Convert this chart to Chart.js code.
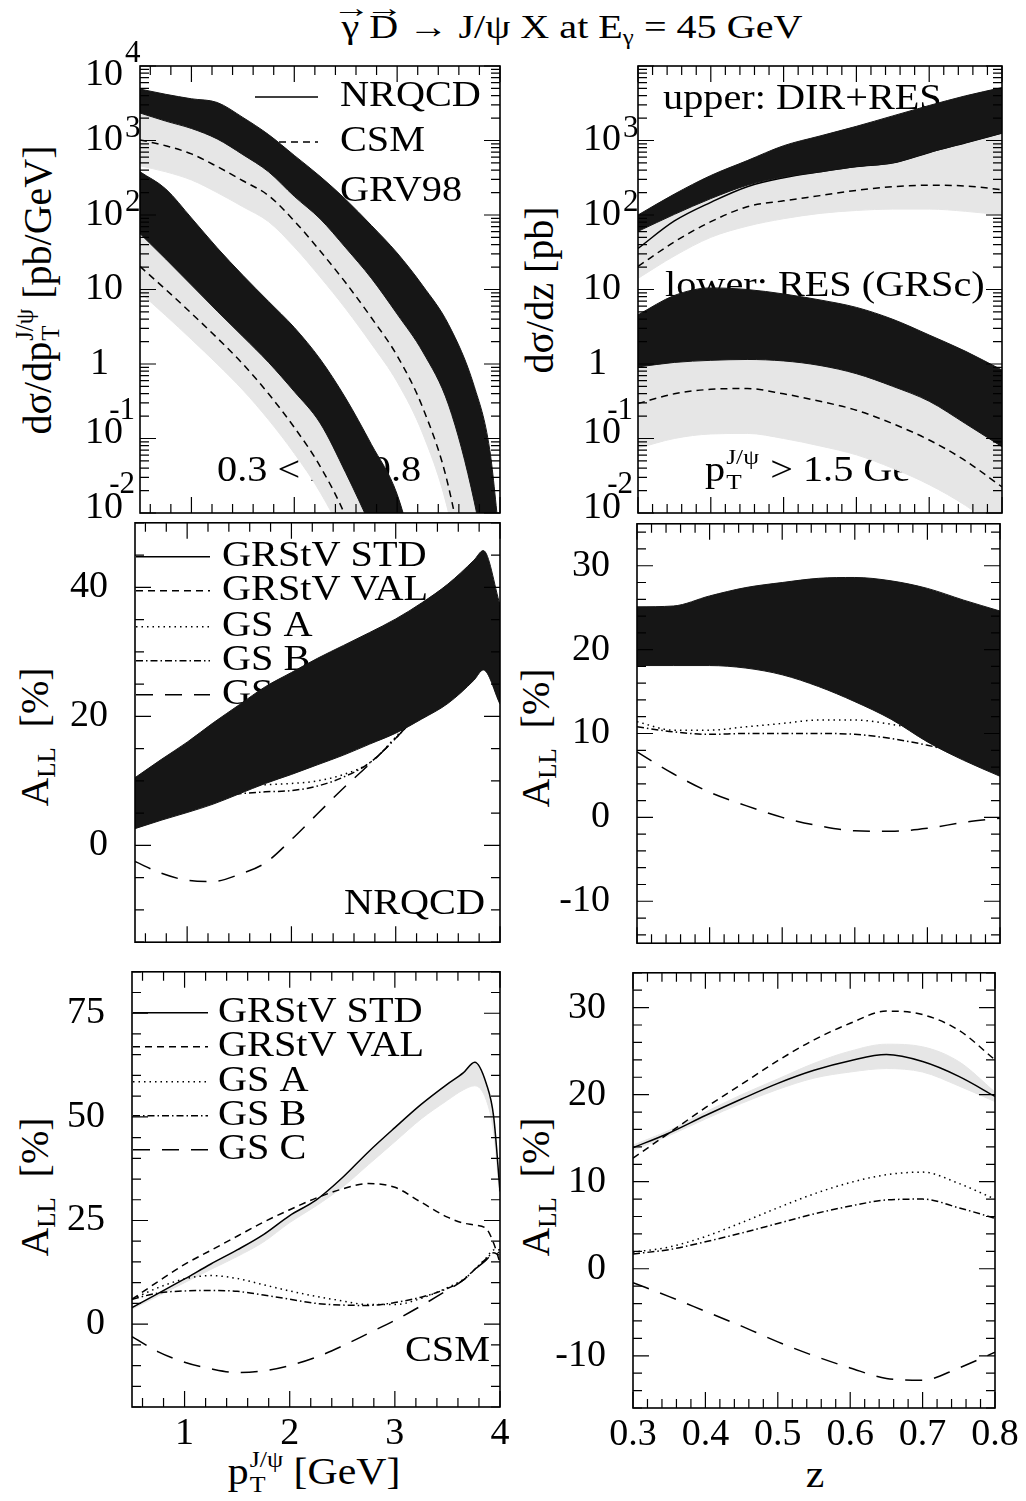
<!DOCTYPE html>
<html>
<head>
<meta charset="utf-8">
<title>J/psi photoproduction: cross sections and A_LL</title>
<script src="https://cdn.jsdelivr.net/npm/chart.js@4.4.1/dist/chart.umd.min.js"></script>
<style>
  html, body { margin: 0; padding: 0; background: #fff; }
  body { position: relative; width: 1026px; height: 1501px; overflow: hidden;
         font-family: "Liberation Serif", "Times New Roman", serif; color: #000; }
  canvas { position: absolute; }
  .lbl { position: absolute; white-space: nowrap; line-height: 1; }
  .yt { font-size: 40px; transform: translate(-50%, -50%) rotate(-90deg); }
  .xt { font-size: 38px; transform: translate(-50%, -50%) scaleX(1.1); }
  #title { font-size: 34px; transform: translate(-50%, -50%) scaleX(1.18); }
  .vec { position: relative; display: inline-block; }
  .vec::before { content: "\2192"; position: absolute; left: 50%; top: -0.55em;
                 transform: translateX(-50%) scaleX(1.2); font-size: 0.8em; }
  sub.s { font-size: 0.62em; vertical-align: -0.3em; line-height: 0; }
  .ss { display: inline-flex; flex-direction: column; font-size: 0.62em; line-height: 1.05;
        vertical-align: 0.73em; margin-left: 1px; }
</style>
</head>
<body>

<div id="title" class="lbl" style="left:572px; top:27px;"><span class="vec">γ</span> <span class="vec">D</span> → J/ψ X at E<sub class="s">γ</sub> = 45 GeV</div>

<div class="lbl yt" style="left:38px; top:290px;">dσ/dp<span class="ss"><span>J/ψ</span><span>T</span></span> [pb/GeV]</div>
<div class="lbl yt" style="left:540px; top:290px;">dσ/dz [pb]</div>
<div class="lbl yt" style="left:35px; top:737px;">A<sub class="s">LL</sub>&nbsp;&nbsp;[%]</div>
<div class="lbl yt" style="left:536px; top:738px;">A<sub class="s">LL</sub>&nbsp;&nbsp;[%]</div>
<div class="lbl yt" style="left:35px; top:1187px;">A<sub class="s">LL</sub>&nbsp;&nbsp;[%]</div>
<div class="lbl yt" style="left:536px; top:1187px;">A<sub class="s">LL</sub>&nbsp;&nbsp;[%]</div>
<div class="lbl xt" style="left:314px; top:1472px;">p<span class="ss"><span>J/ψ</span><span>T</span></span> [GeV]</div>
<div class="lbl xt" style="left:815px; top:1474px;">z</div>

<canvas id="topLeft"></canvas>
<canvas id="topRight"></canvas>
<canvas id="midLeft"></canvas>
<canvas id="midRight"></canvas>
<canvas id="botLeft"></canvas>
<canvas id="botRight"></canvas>

<script>
// ---------- tick labels ----------
const ptTicks = [1, 2, 3, 4];
const zTicks = [0.3, 0.4, 0.5, 0.6, 0.7, 0.8];
const sigmaDecadesPt = [-2, -1, 0, 1, 2, 3, 4];
const sigmaDecadesZ = [-2, -1, 0, 1, 2, 3];
const allNrqcdPtTicks = [0, 20, 40];
const allNrqcdZTicks = [-10, 0, 10, 20, 30];
const allCsmPtTicks = [0, 25, 50, 75];
const allCsmZTicks = [-10, 0, 10, 20, 30];

// ---------- top left: dsigma/dpT [pb/GeV], 0.3 < z < 0.8 ----------
const ptSigma = [0.5, 0.75, 1, 1.25, 1.5, 1.75, 2, 2.25, 2.5, 2.75, 3, 3.25, 3.5, 3.75, 3.9, 4];
const nrqcdDirResHi = [4900, 4170, 3630, 3240, 2040, 1200, 631, 331, 162, 72.4, 30.9, 11.2, 3.39, 0.50, 0.071, 0.004];
const nrqcdDirResLo = [2340, 1820, 1450, 1050, 646, 380, 178, 89.1, 36.3, 14.1, 4.68, 1.45, 0.282, 0.0141, 0.001, 0.0001];
const csmDirRes = [1020, 851, 661, 447, 288, 182, 83.2, 33.1, 12.3, 4.17, 1.29, 0.257, 0.0224, 0.0003, 0.00001, 0.000001];
const csmDirResLo = [457, 380, 295, 200, 129, 81.3, 37.2, 14.8, 5.5, 1.86, 0.575, 0.115, 0.01, 0.00014, 0.000004, 0.0000004];
const ptSigmaRes = [0.5, 0.75, 1, 1.25, 1.5, 1.75, 2, 2.25, 2.5, 2.75, 3, 3.25];
const nrqcdResHi = [380, 224, 91.2, 36.3, 15.5, 6.92, 3.09, 1.17, 0.347, 0.0832, 0.0178, 0.001];
const nrqcdResLo = [56.2, 25.7, 11.5, 5.13, 2.34, 1.05, 0.427, 0.162, 0.0347, 0.0063, 0.001, 0.0001];
const csmRes = [20.4, 10, 4.79, 2.24, 1.0, 0.398, 0.141, 0.0427, 0.0089, 0.001, 0.0001, 0.00001];
const csmResLo = [9.12, 4.47, 2.14, 1.0, 0.447, 0.178, 0.0631, 0.0191, 0.004, 0.0004, 0.00004, 0.000004];

// ---------- top right: dsigma/dz [pb], pT > 1.5 GeV ----------
const zGrid = [0.3, 0.35, 0.4, 0.45, 0.5, 0.55, 0.6, 0.65, 0.7, 0.75, 0.8];
const nrqcdZDirResHi = [100, 191, 339, 537, 851, 1150, 1550, 2140, 2950, 3980, 5130];
const nrqcdZDirResLo = [60.3, 102, 166, 251, 324, 380, 447, 501, 692, 933, 1260];
const nrqcdZDirRes = [35.5, 83.2, 148, 240, 316, 380, 447, 501, 692, 933, 1260];
const csmZDirRes = [20.4, 43.7, 81.3, 129, 155, 182, 214, 240, 251, 245, 219];
const csmZDirResLo = [14.1, 28.2, 50.1, 70.8, 89.1, 105, 115, 120, 120, 112, 100];
const nrqcdZResHi = [4.57, 8.32, 10.5, 10.0, 8.71, 7.24, 5.75, 3.98, 2.45, 1.48, 0.83];
const nrqcdZResLo = [0.912, 1.05, 1.12, 1.15, 1.10, 0.955, 0.741, 0.501, 0.316, 0.158, 0.0776];
const csmZRes = [0.295, 0.398, 0.457, 0.468, 0.398, 0.316, 0.240, 0.158, 0.0955, 0.0501, 0.0224];
const csmZResLo = [0.0741, 0.1, 0.115, 0.117, 0.1, 0.0794, 0.0603, 0.0398, 0.024, 0.0126, 0.0056];

// ---------- middle left: A_LL [%] vs pT, NRQCD ----------
const ptAll = [0.5, 0.75, 1, 1.25, 1.5, 1.75, 2, 2.25, 2.5, 2.75, 3, 3.25, 3.5, 3.75, 3.84, 4];
const nrqcdPtBandHi = [10.5, 13.3, 16.0, 19.0, 21.8, 24.6, 26.8, 29.0, 31.0, 33.0, 35.1, 37.6, 40.5, 44.2, 45.7, 37.3];
const nrqcdPtBandLo = [2.6, 3.9, 5.1, 6.4, 8.0, 9.6, 11.0, 12.5, 14.0, 15.7, 17.4, 19.6, 22.0, 25.6, 27.2, 21.9];
const nrqcdPtGsA = [6.0, 7.5, 8.3, 8.8, 9.2, 9.4, 9.6, 10.0, 11.0, 12.8, 16.8, 21.5, 26.0, 31.0, 33.0, 28.0];
const nrqcdPtGsB = [5.0, 6.0, 7.0, 7.6, 8.0, 8.3, 8.5, 9.2, 10.6, 12.8, 16.6, 21.0, 25.5, 30.5, 32.5, 27.5];
const nrqcdPtGsC = [-2.5, -4.3, -5.4, -5.6, -4.5, -2.7, 0.9, 4.9, 8.9, 12.6, 16.6, 21.0, 25.0, 30.0, 32.0, 27.0];

// ---------- middle right: A_LL [%] vs z, NRQCD ----------
const nrqcdZBandHi = [25.1, 25.2, 26.4, 27.4, 28.0, 28.5, 28.6, 28.2, 27.3, 25.9, 24.6];
const nrqcdZBandLo = [18.1, 18.1, 18.1, 17.8, 17.0, 15.6, 13.8, 11.7, 9.0, 6.8, 4.9];
const nrqcdZGsA = [11.4, 10.4, 10.4, 10.8, 11.2, 11.6, 11.6, 11.1, 10.2, 8.5, 6.5];
const nrqcdZGsB = [10.8, 10.2, 9.9, 10.0, 10.0, 10.0, 9.9, 9.4, 8.6, 7.5, 6.0];
const nrqcdZGsC = [7.8, 5.2, 3.0, 1.4, 0.0, -1.0, -1.6, -1.65, -1.3, -0.6, -0.1];

// ---------- bottom left: A_LL [%] vs pT, CSM ----------
const ptCsm = [0.5, 0.75, 1, 1.25, 1.5, 1.75, 2, 2.25, 2.5, 2.75, 3, 3.25, 3.5, 3.65, 3.76, 3.87, 3.94, 4];
const csmPtStd = [4.0, 7.4, 10.9, 14.5, 17.9, 21.6, 26.2, 29.9, 35.3, 41.6, 47.4, 53.0, 57.9, 60.6, 63.2, 58.0, 50.0, 32.0];
const csmPtStdLo = [3.6, 6.8, 10.0, 13.2, 16.3, 19.8, 24.5, 28.5, 33.0, 38.5, 44.0, 49.5, 54.0, 56.5, 57.5, 54.0, 46.0, 30.0];
const csmPtVal = [6.0, 10.3, 14.4, 17.8, 21.2, 24.6, 27.6, 30.4, 32.6, 33.9, 33.0, 29.4, 25.8, 24.4, 23.9, 23.0, 19.5, 14.8];
const csmPtGsA = [6.0, 8.8, 10.9, 11.7, 11.0, 9.5, 8.0, 6.7, 5.6, 4.7, 4.7, 6.2, 8.8, 10.8, 13.2, 16.0, 17.9, 17.0];
const csmPtGsB = [6.0, 7.5, 8.0, 8.1, 7.9, 7.0, 6.0, 5.0, 4.6, 4.5, 5.2, 6.5, 8.6, 10.6, 13.2, 15.8, 17.2, 16.5];
const csmPtGsC = [-3.0, -6.7, -9.2, -10.8, -11.7, -11.3, -10.0, -8.0, -5.3, -2.2, 0.9, 4.4, 8.2, 10.6, 13.2, 15.5, 17.4, 18.0];

// ---------- bottom right: A_LL [%] vs z, CSM ----------
const csmZStd = [13.9, 15.6, 17.6, 19.5, 21.3, 22.8, 23.9, 24.6, 23.8, 22.1, 19.8];
const csmZStdHi = [14.2, 15.9, 18.0, 20.0, 21.8, 23.6, 25.0, 25.8, 25.5, 23.8, 20.3];
const csmZStdLo = [13.6, 15.3, 17.2, 19.0, 20.6, 21.9, 22.6, 23.0, 22.6, 21.0, 19.2];
const csmZVal = [12.7, 15.6, 18.5, 21.2, 23.9, 26.3, 28.2, 29.6, 29.2, 27.4, 24.0];
const csmZGsA = [1.9, 2.5, 3.7, 5.3, 7.0, 8.6, 9.9, 10.8, 11.1, 9.8, 8.0];
const csmZGsB = [1.7, 2.2, 3.1, 4.1, 5.2, 6.3, 7.2, 7.9, 8.0, 7.0, 5.8];
const csmZGsC = [-1.6, -3.2, -4.9, -6.6, -8.4, -10.0, -11.4, -12.6, -12.8, -11.4, -9.6];

// legend texts
const sigmaLegend = ['NRQCD', 'CSM', 'GRV98'];
const pdfLegend = ['GRStV STD', 'GRStV VAL', 'GS A', 'GS B', 'GS C'];

// ---------- helpers ----------
const FONT = '"Liberation Serif", "Times New Roman", serif';
const DASH = { solid: [], dash: [7, 5], dot: [1.5, 4], dashdot: [7, 3, 1.5, 3], longdash: [17, 12] };
const DARK = '#161616';
const LIGHT = '#e6e6e6';

const pts = (xs, ys) => xs.map((x, i) => ({ x, y: ys[i] }));

function curve(xs, ys, dash) {
  return { data: pts(xs, ys), borderColor: '#000', borderWidth: 1.5, borderDash: DASH[dash],
           pointRadius: 0, fill: false, cubicInterpolationMode: 'monotone', order: 0 };
}

// dark bands sit on top of the curves (order -1), light ones underneath (order 2)
function band(xs, hi, lo, color, order) {
  return [
    { data: pts(xs, hi), borderColor: color, backgroundColor: color, borderWidth: 1, pointRadius: 0,
      fill: '+1', cubicInterpolationMode: 'monotone', order },
    { data: pts(xs, lo), borderColor: color, borderWidth: 1, pointRadius: 0,
      fill: false, cubicInterpolationMode: 'monotone', order }
  ];
}

function drawText(ctx, str, x, y, size, align, sx) {
  ctx.save();
  ctx.translate(x, y);
  ctx.scale(sx || 1, 1);
  ctx.font = size + 'px ' + FONT;
  ctx.textAlign = align || 'left';
  ctx.textBaseline = 'middle';
  ctx.fillStyle = '#000';
  ctx.fillText(str, 0, 0);
  ctx.restore();
}

function drawPtNote(ctx, tail, x, y, size, sx) {
  ctx.save();
  ctx.translate(x, y);
  ctx.scale(sx, 1);
  ctx.fillStyle = '#000';
  ctx.textBaseline = 'middle';
  ctx.textAlign = 'left';
  ctx.font = size + 'px ' + FONT;
  ctx.fillText('p', 0, 0);
  const wp = ctx.measureText('p').width;
  ctx.font = Math.round(size * 0.62) + 'px ' + FONT;
  ctx.fillText('J/ψ', wp + 1, -size * 0.38);
  ctx.fillText('T', wp + 1, size * 0.32);
  const ws = Math.max(ctx.measureText('J/ψ').width, ctx.measureText('T').width);
  ctx.font = size + 'px ' + FONT;
  ctx.fillText(tail, wp + ws + 2, 0);
  ctx.restore();
}

// frame, inward ticks, log labels, in-panel texts and legend
function framePlugin(deco) {
  return {
    id: 'frame',
    beforeDatasetsDraw(chart) {
      const ctx = chart.ctx, a = chart.chartArea;
      (deco.notes || []).forEach(n => {
        const x = n.fromRight ? a.right - n.dx : a.left + n.dx;
        if (n.pt) drawPtNote(ctx, n.text, x, a.top + n.dy, 35, 1.15);
        else drawText(ctx, n.text, x, a.top + n.dy, 35, n.fromRight ? 'right' : 'left', 1.15);
      });
      const lg = deco.legend;
      if (lg) {
        lg.labels.forEach((label, i) => {
          const y = a.top + lg.dy[i];
          if (lg.dash[i]) {
            ctx.save();
            ctx.beginPath();
            ctx.strokeStyle = '#000';
            ctx.lineWidth = 1.5;
            ctx.setLineDash(DASH[lg.dash[i]]);
            ctx.moveTo(a.left + lg.x1, y);
            ctx.lineTo(a.left + lg.x2, y);
            ctx.stroke();
            ctx.restore();
          }
          drawText(ctx, label, a.left + lg.tx, y, 35, 'left', 1.15);
        });
      }
    },
    afterDatasetsDraw(chart) {
      const ctx = chart.ctx, a = chart.chartArea;
      const xs = chart.scales.x, ys = chart.scales.y;
      ctx.save();
      ctx.strokeStyle = '#000';
      ctx.setLineDash([]);
      ctx.lineWidth = 1.2;
      ctx.beginPath();
      const seg = (x1, y1, x2, y2) => { ctx.moveTo(x1, y1); ctx.lineTo(x2, y2); };
      const x0 = Math.ceil(xs.min / deco.xMinor - 1e-6) * deco.xMinor;
      for (let i = 0; ; i++) {
        const v = x0 + i * deco.xMinor;
        if (v > xs.max + 1e-9) break;
        const r = v / deco.xMajor;
        const len = Math.abs(r - Math.round(r)) < 1e-6 ? 16 : 9;
        const p = xs.getPixelForValue(v);
        seg(p, a.top, p, a.top + len);
        seg(p, a.bottom, p, a.bottom - len);
      }
      if (deco.log) {
        for (let e = -2; e <= 4; e++) {
          for (let m = 1; m <= 9; m++) {
            const v = m * Math.pow(10, e);
            if (v > ys.max * 1.0001) break;
            const len = m === 1 ? 16 : 9;
            const p = ys.getPixelForValue(v);
            seg(a.left, p, a.left + len, p);
            seg(a.right, p, a.right - len, p);
          }
        }
      } else {
        const y0 = Math.ceil(ys.min / deco.yMinor - 1e-6) * deco.yMinor;
        for (let i = 0; ; i++) {
          const v = y0 + i * deco.yMinor;
          if (v > ys.max + 1e-9) break;
          const r = v / deco.yMajor;
          const len = Math.abs(r - Math.round(r)) < 1e-6 ? 16 : 9;
          const p = ys.getPixelForValue(v);
          seg(a.left, p, a.left + len, p);
          seg(a.right, p, a.right - len, p);
        }
      }
      ctx.stroke();
      ctx.lineWidth = 1.6;
      ctx.strokeRect(a.left, a.top, a.right - a.left, a.bottom - a.top);
      ctx.restore();
      // decade labels of the log axis, PAW style "10" with a raised exponent
      (deco.decades || []).forEach(e => {
        const p = ys.getPixelForValue(Math.pow(10, e));
        if (e === 0) { drawText(ctx, '1', a.left - 31, p, 38, 'right'); return; }
        drawText(ctx, '10', a.left - 17, e === 4 ? p + 9 : (e < 0 ? p - 5 : p), 38, 'right');
        if (e > 1) drawText(ctx, String(e), a.left - 15, p - 12, 31, 'left');
        if (e < 0) drawText(ctx, String(e), a.left - 5, p - 28, 31, 'right');
      });
    }
  };
}

function makePanel(id, f, spec) {
  const padL = 130, padT = 40, padR = 40, padB = spec.xTicks ? 62 : 30;
  const w = f.R - f.L + padL + padR, h = f.B - f.T + padT + padB;
  const cv = document.getElementById(id);
  cv.style.left = (f.L - padL) + 'px';
  cv.style.top = (f.T - padT) + 'px';
  cv.width = w;
  cv.height = h;
  cv.style.width = w + 'px';
  cv.style.height = h + 'px';
  const tickFont = { family: FONT, size: 38 };

  const x = { type: 'linear', min: spec.xMin, max: spec.xMax, display: !!spec.xTicks };
  if (spec.xTicks) {
    Object.assign(x, {
      grid: { display: false, drawTicks: false },
      border: { display: false },
      ticks: { color: '#000', font: tickFont, padding: 4, maxRotation: 0, autoSkip: false,
               callback: v => spec.xDigits ? v.toFixed(spec.xDigits) : String(v) },
      afterBuildTicks: s => { s.ticks = spec.xTicks.map(v => ({ value: v })); },
      afterFit: s => { s.height = padB; }
    });
  }
  const y = spec.log
    ? { type: 'logarithmic', min: spec.yMin, max: spec.yMax, display: false }
    : {
        type: 'linear', min: spec.yMin, max: spec.yMax, display: true,
        grid: { display: false, drawTicks: false },
        border: { display: false },
        ticks: { color: '#000', font: tickFont, padding: 27, autoSkip: false, callback: v => String(v) },
        afterBuildTicks: s => { s.ticks = spec.yTicks.map(v => ({ value: v })); },
        afterFit: s => { s.width = padL; }
      };

  new Chart(cv, {
    type: 'line',
    data: { datasets: spec.datasets },
    options: {
      responsive: false,
      animation: false,
      events: [],
      layout: { padding: { left: spec.log ? padL : 0, top: padT, right: padR, bottom: spec.xTicks ? 0 : padB } },
      scales: { x, y },
      plugins: { legend: { display: false }, tooltip: { enabled: false } }
    },
    plugins: [framePlugin(spec.deco)]
  });
}

// ---------- panels ----------
makePanel('topLeft', { L: 140, T: 66, R: 500, B: 513 }, {
  xMin: 0.5, xMax: 4, yMin: 0.01, yMax: 10000, log: true,
  datasets: [
    curve(ptSigma, csmDirRes, 'dash'),
    curve(ptSigmaRes, csmRes, 'dash'),
    ...band(ptSigma, nrqcdDirResHi, nrqcdDirResLo, DARK, -1),
    ...band(ptSigmaRes, nrqcdResHi, nrqcdResLo, DARK, -1),
    ...band(ptSigma, nrqcdDirResLo, csmDirResLo, LIGHT, 2),
    ...band(ptSigmaRes, nrqcdResLo, csmResLo, LIGHT, 2)
  ],
  deco: {
    xMinor: 0.2, xMajor: 1, log: true, decades: sigmaDecadesPt,
    notes: [{ text: '0.3 < z < 0.8', dx: 77, dy: 406 }],
    legend: { labels: sigmaLegend, dash: ['solid', 'dash', null], x1: 115, x2: 178, tx: 200, dy: [31, 76, 126] }
  }
});

makePanel('topRight', { L: 638, T: 66, R: 1002, B: 513 }, {
  xMin: 0.3, xMax: 0.8, yMin: 0.01, yMax: 10000, log: true,
  datasets: [
    curve(zGrid, nrqcdZDirRes, 'solid'),
    curve(zGrid, csmZDirRes, 'dash'),
    curve(zGrid, csmZRes, 'dash'),
    ...band(zGrid, nrqcdZDirResHi, nrqcdZDirResLo, DARK, -1),
    ...band(zGrid, nrqcdZResHi, nrqcdZResLo, DARK, -1),
    ...band(zGrid, nrqcdZDirResLo, csmZDirResLo, LIGHT, 2),
    ...band(zGrid, nrqcdZResLo, csmZResLo, LIGHT, 2)
  ],
  deco: {
    xMinor: 0.02, xMajor: 0.1, log: true, decades: sigmaDecadesZ,
    notes: [
      { text: 'upper: DIR+RES', dx: 25, dy: 34 },
      { text: 'lower: RES (GRSc)', dx: 27, dy: 221 },
      { text: ' > 1.5 GeV', dx: 67, dy: 406, pt: true }
    ]
  }
});

makePanel('midLeft', { L: 135, T: 513, R: 500, B: 962 }, {
  xMin: 0.5, xMax: 4, yMin: -15, yMax: 50, yTicks: allNrqcdPtTicks,
  datasets: [
    curve(ptAll, nrqcdPtGsA, 'dot'),
    curve(ptAll, nrqcdPtGsB, 'dashdot'),
    curve(ptAll, nrqcdPtGsC, 'longdash'),
    ...band(ptAll, nrqcdPtBandHi, nrqcdPtBandLo, DARK, -1)
  ],
  deco: {
    xMinor: 0.2, xMajor: 1, yMinor: 5, yMajor: 20,
    notes: [{ text: 'NRQCD', dx: 15, dy: 382, fromRight: true }],
    legend: { labels: pdfLegend, dash: ['solid', 'dash', 'dot', 'dashdot', 'longdash'],
              x1: 1, x2: 75, tx: 87, dy: [34, 68, 104, 138, 172] }
  }
});

makePanel('midRight', { L: 637, T: 514, R: 1000, B: 963 }, {
  xMin: 0.3, xMax: 0.8, yMin: -15, yMax: 35, yTicks: allNrqcdZTicks,
  datasets: [
    curve(zGrid, nrqcdZGsA, 'dot'),
    curve(zGrid, nrqcdZGsB, 'dashdot'),
    curve(zGrid, nrqcdZGsC, 'longdash'),
    ...band(zGrid, nrqcdZBandHi, nrqcdZBandLo, DARK, -1)
  ],
  deco: { xMinor: 0.02, xMajor: 0.1, yMinor: 2, yMajor: 10 }
});

makePanel('botLeft', { L: 132, T: 962, R: 500, B: 1407 }, {
  xMin: 0.5, xMax: 4, yMin: -20, yMax: 85, yTicks: allCsmPtTicks, xTicks: ptTicks,
  datasets: [
    curve(ptCsm, csmPtStd, 'solid'),
    curve(ptCsm, csmPtVal, 'dash'),
    curve(ptCsm, csmPtGsA, 'dot'),
    curve(ptCsm, csmPtGsB, 'dashdot'),
    curve(ptCsm, csmPtGsC, 'longdash'),
    ...band(ptCsm, csmPtStd, csmPtStdLo, LIGHT, 2)
  ],
  deco: {
    xMinor: 0.2, xMajor: 1, yMinor: 5, yMajor: 25,
    notes: [{ text: 'CSM', dx: 10, dy: 380, fromRight: true }],
    legend: { labels: pdfLegend, dash: ['solid', 'dash', 'dot', 'dashdot', 'longdash'],
              x1: 1, x2: 76, tx: 86, dy: [41, 75, 110, 144, 178] }
  }
});

makePanel('botRight', { L: 633, T: 963, R: 995, B: 1408 }, {
  xMin: 0.3, xMax: 0.8, yMin: -16, yMax: 34, yTicks: allCsmZTicks, xTicks: zTicks, xDigits: 1,
  datasets: [
    curve(zGrid, csmZStd, 'solid'),
    curve(zGrid, csmZVal, 'dash'),
    curve(zGrid, csmZGsA, 'dot'),
    curve(zGrid, csmZGsB, 'dashdot'),
    curve(zGrid, csmZGsC, 'longdash'),
    ...band(zGrid, csmZStdHi, csmZStdLo, LIGHT, 2)
  ],
  deco: { xMinor: 0.02, xMajor: 0.1, yMinor: 2, yMajor: 10 }
});
</script>
</body>
</html>
